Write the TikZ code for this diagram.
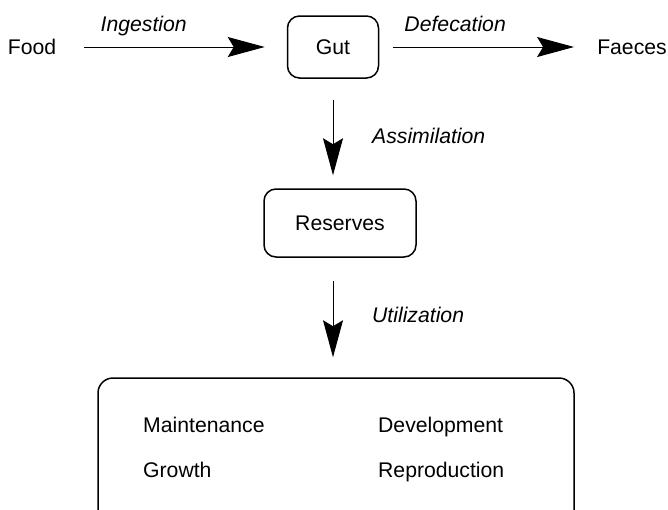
\documentclass[tikz,border=0pt]{standalone}
\usepackage{fontspec}
\setmainfont{Liberation Sans}
\usetikzlibrary{arrows.meta,positioning}

\begin{document}
\begin{tikzpicture}[x=0.5pt,y=-0.5pt,line width=0.5pt]
\tikzstyle{every node}=[font=\fontsize{10.6}{13}\selectfont]
\tikzstyle{box}=[draw, rounded corners=6pt, line width=0.75pt]
\tikzstyle{flow}=[-{Stealth[length=18.5pt,width=10pt,inset=3pt]}]
\tikzstyle{rate}=[font=\fontsize{10.6}{13}\selectfont\itshape, text height=0.72em, text depth=0.21em]

\useasboundingbox (0,0) rectangle (668,509);
\clip (0,0) rectangle (668,509);

\node (food) at (32,47) {Food};
\node[box, minimum width=45.5pt, minimum height=31pt] (gut) at (333,47) {Gut};
\node (faeces) at (632,47) {Faeces};
\node[box, minimum width=76pt, minimum height=34pt] (reserves) at (340,223) {Reserves};
\node[box, minimum width=238pt, minimum height=76pt, rounded corners=7.5pt] (body) at (336,454) {};

\node[anchor=base west] (maint) at (136,432) {Maintenance};
\node[anchor=base west] (devel) at (371,432) {Development};
\node[anchor=base west] (growth) at (136,477) {Growth};
\node[anchor=base west] (repro) at (371,477) {Reproduction};

\draw[flow, shorten <=10.5pt, shorten >=11pt] (food) -- (gut) node[rate, pos=0.36, above=2pt] {Ingestion};
\draw[flow, shorten <=7pt, shorten >=8pt] (gut) -- (faeces) node[rate, pos=0.36, above=2pt] {Defecation};
\draw[flow, shorten <=10.5pt, shorten >=6.5pt] (gut) -- (gut |- reserves.north) node[rate, midway, right=16pt, yshift=-2.5pt] {Assimilation};
\draw[flow, shorten <=11.5pt, shorten >=10pt] (reserves.south -| gut) -- (gut |- body.north) node[rate, midway, right=16pt] {Utilization};
\end{tikzpicture}
\end{document}
